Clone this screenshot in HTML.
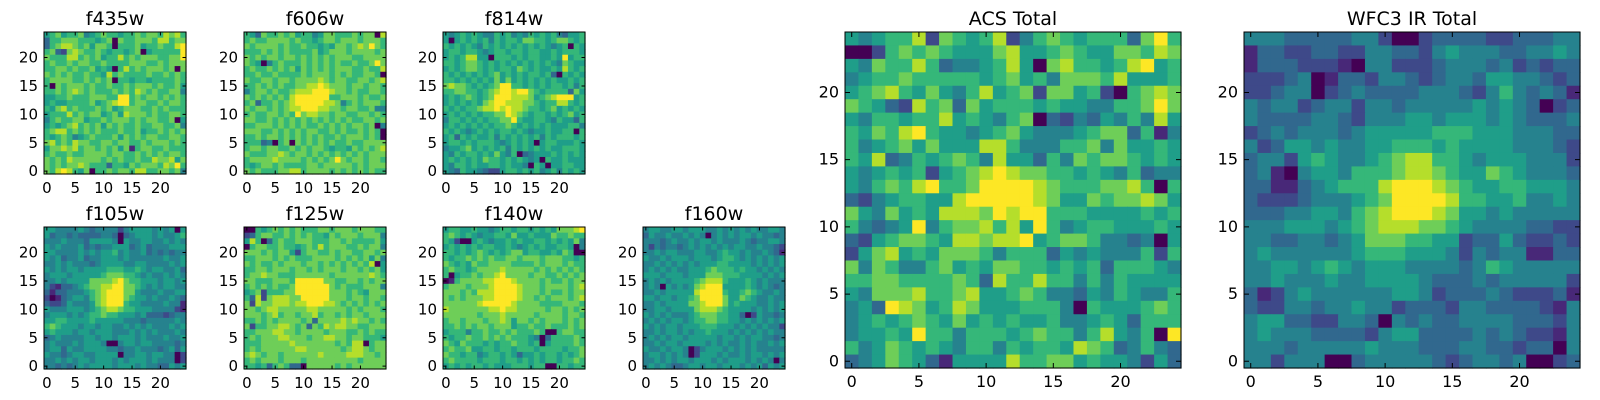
<!DOCTYPE html>
<html><head><meta charset="utf-8"><style>
html,body{margin:0;padding:0;background:#fff;}
svg{display:block;font-family:"DejaVu Sans","Liberation Sans",sans-serif;}
</style></head><body>
<svg id="fig" width="1600" height="400" viewBox="0 0 1600 400" xmlns="http://www.w3.org/2000/svg"></svg>
<script>
// tick values shared by all panels
const tickValues = [0, 5, 10, 15, 20];
// panel titles
const panelTitles = ["f435w","f606w","f814w","f105w","f125w","f140w","f160w","ACS Total","WFC3 IR Total"];
// pixel intensity rows (0-9 scale), listed from y=24 (top) down to y=0
const f435w = ["5675667456766566767768786","3667776665670766777688677","3678876757760666756676689","6732787667656656705666669","7666886767566867677766779","6766767766766667776676777","6677676675650686767776707","7676766766586766667667676","6777766767670665665666676","6076777676676676777676675","6676787676667676876766774","5566766677766996767767676","5655666675678996776676776","6578676667675677766767666","5666867677567587776766776","4676677566767776767766705","5656786767576766766776674","6788676767666766756676767","6567645676667576767766776","7867687766776776676777676","5778786776767571677667666","6766766777767766767676776","7676877777676766766877857","7676778766636657677768796","7689865706676776886677674"];
const f606w = ["6537667675664577666767708","6766777767665677677767776","7677776766766565776787976","6667676766667567776777767","7676776776767676777667777","7650467666767676766766797","6766767675767676777667668","6676676666767776767667760","7667767767777876776677678","6676767667788987776776776","4677676678889998776766776","7676767689999996677767667","6736676789999988746767776","7677676788999887767766744","6766776769788776776677676","7766767676767676767667767","6677767676766767676776704","7776676767677667676676760","6676776767676766767776760","6663406707676767667667777","6776776676767765665767678","7666778767767676767676777","6777787777676767976776776","6567767666677677777676777","7676667788677776767676766"];
const f814w = ["5456565446564546565643556","5056565646566577665677656","6565654656565656565456065","5665665456656656655656665","5656885506665656655659566","6656776565656565656547655","5656776565665765655658656","6565656567565656656306565","6656565657575656565655656","7877656567996656565665646","6677665678998997656666375","5656765679998887567899956","5656565789988877656688656","6565667889898876656756565","5656565667798765665656756","4665656566779655665465536","5656565656676565656555664","6565456565665654556556606","5636565564656565646566656","5665656665456565056655565","4556756565646565656556665","5465665657546034555656565","5656565766565654506556555","5466565566565540650556655","5436554322566565645646565"];
const f105w = ["5544445434444245555454505","5344343333443034555454456","4445444355554054455445454","5454445343445553453444555","5544445454556454453434344","5453445344555454444445445","4454544434555544554444545","5454554555566655654554453","4555455555677766545445454","4454555577778976655545545","4213345677889977654545544","3133444567899977544454455","2013455467899976554544543","3223544457899965544445441","5444555456788766555444421","4555454566766555453332344","5566555565555544434444454","6765554554554454545444545","5655545545554445454544454","3454444554554555454445445","4544454555400455455444434","4553544555544344544434535","5443455445555044554554402","4454545545554545554544402","4434345455554555454433545"];
const f125w = ["0065676767666776777677766","2367766767676657677767774","5860367667776667767666675","0677667665676867776676774","7776767752677667677667767","6677767676667777676767574","7676676777677676767676805","6677677767767677767767675","6778776667777776777777876","7766677769999977667767677","6767676679999997676667774","5672666779999997776765777","6382788877999997776776776","7287788878899988767676767","7767887777788777776767776","7776786776778677676776777","6676767777673777787877676","7266778876737687887766777","6677788776777767776676766","6767778877767788776776665","6667777787777777676880677","6767777778877777767887677","7876776777777877778887767","6767776777677777777767777","6656367633077777676777777"];
const f140w = ["5665565545665665656577789","6765654556657556555766766","6520056545565655665656574","5656565665565456565566504","6656567656567756655657600","6566767676677677767776656","7656576677776666767776766","6766567777877777676767676","6056676778977776776676767","0167777889998777767667677","6777677789999877767777678","7776768889999877767667677","7676777889999877676777678","7777778999998777766667776","8777777788988777776776767","7777776777877777677776776","6776777677875776767776767","6676767767775667667666767","5666466766767666760067766","6566766767676665403666676","7657666565667665605666676","6766755665665666566665667","7665664566565355656656567","6766665666566565656656676","5656566565556665660066566"];
const f160w = ["4554455455544545454544554","3544544545404545455454434","4443454454554544454344554","4243443454545454554454432","4454554445544565545445431","5445455545554566545454545","4454545454555665555454545","4545454455567666565545454","5554555455577766655554545","4545455556788865556545444","4540545457899955556545434","4454555558999965567654454","5545545567999975576544544","4454555577899975655544545","4455455557888765555454545","5454544456777665530254434","4545455456677665545454545","5454554555666555454545442","4454554545565554545454544","4545455455555455454554434","4454554555545454454544545","5445455402455545454544444","4554545402555454454554545","4454545545554545554545404","4545433455455455545453545"];
const acsTotal = ["5456682765682467656663796","0026767655578556765577687","5476686344568507866568956","4566766666567564777685556","5678657546856727756206787","7653286737566656554466797","5466566856546703243546485","6576896554567544456773614","6456757555886444667475565","6583465676485536476776565","5456562567898776656546344","5467689667999987666778606","3245665589999987557677875","7547565888798996665555656","6434594677868596456655565","3256776588788956776443405","2578565777646663545444626","7476446756577665656366654","6677666676386686646465555","5477786678556764435465446","4539875687555666406555676","4565676575656556445653666","4556596646665676646854609","6457656546646566587634643","3457653155558667756554253"];
const wfc3Total = ["4443333344200233332233344","1332233224433245444334454","1333222104422234443423233","2223401332443234435544323","2234402343333444324643431","4344234424434444454543023","4333344324445545554543334","2343444345555566655544433","4235545445566656555544432","3442565445678866545554442","3410455466678876557654443","3311345666899987655665554","3222344456799998665564454","3334455467899987554544444","4445554567888776544443322","4433443457776655233532232","4544444456665554243441133","4455456545554444346544444","4454445445555433343444442","3124544444455423334322231","3224434454423332443333214","4553322443043433444433324","4544433332455333343432214","4443444445444333443323304","4424440034444432344340023"];

const panelData = [f435w,f606w,f814w,f105w,f125w,f140w,f160w,acsTotal,wfc3Total];
const panelSlugs = ["f435w","f606w","f814w","f105w","f125w","f140w","f160w","acs-total","wfc3-ir-total"];
// layout (not data)
const layout = [
 {x:44,y:32,s:142,big:false},{x:244,y:32,s:142,big:false},{x:443,y:32,s:142,big:false},
 {x:44,y:227,s:142,big:false},{x:244,y:227,s:142,big:false},{x:443,y:227,s:142,big:false},{x:643,y:227,s:142,big:false},
 {x:845,y:32,s:336,big:true},{x:1244,y:32,s:336,big:true}
];
const viridis = ["#440154","#482878","#3e4989","#31688e","#26828e","#1f9e89","#35b779","#6ece58","#b5de2b","#fde725"];
const NS = "http://www.w3.org/2000/svg";
const svg = document.getElementById("fig");
function mk(tag, attrs, parent){const e=document.createElementNS(NS,tag);for(const k in attrs)e.setAttribute(k,attrs[k]);parent.appendChild(e);return e;}

panelData.forEach((rows, p) => {
  const L = layout[p], n = 25, c = L.s / n;
  const g = mk("g", {}, svg);
  
  
  const xs = v => L.x + (v + 0.5) * c;
  const ys = v => L.y + L.s - (v + 0.5) * c;
  rows.forEach((row, r) => {
    const yv = n - 1 - r;
    for (let i = 0; i < n; i++) {
      const val = +row[i];
      const rect = mk("rect", {x: (xs(i) - c/2).toFixed(2), y: (ys(yv) - c/2).toFixed(2), width: (c + 0.6).toFixed(2), height: (c + 0.6).toFixed(2), fill: viridis[val]}, g);
      
      
    }
  });
  const frame = mk("rect", {x: L.x, y: L.y, width: L.s, height: L.s, fill: "none", stroke: "#000", "stroke-width": 1}, g);
  
  
  const fs = L.big ? 16 : 15, tl = L.big ? 5 : 3.5;
  tickValues.forEach(t => {
    const px = xs(t), py = ys(t);
    mk("path", {d: `M${px},${L.y+L.s}v${-tl}M${px},${L.y}v${tl}M${L.x},${py}h${tl}M${L.x+L.s},${py}h${-tl}`, stroke: "#000", "stroke-width": 1}, g);
    const xl = mk("text", {x: px, y: L.y + L.s + 19, "font-size": fs, "text-anchor": "middle", fill: "#000"}, g);
    xl.textContent = t;
    
    
    const yl = mk("text", {x: L.x - 6, y: py + 5, "font-size": fs, "text-anchor": "end", fill: "#000"}, g);
    yl.textContent = t;
    
    
  });
  const ti = mk("text", {x: L.x + L.s/2, y: L.y - 7, "font-size": 19, "text-anchor": "middle", fill: "#000"}, g);
  ti.textContent = panelTitles[p];
  
  
});
</script>
</body></html>
